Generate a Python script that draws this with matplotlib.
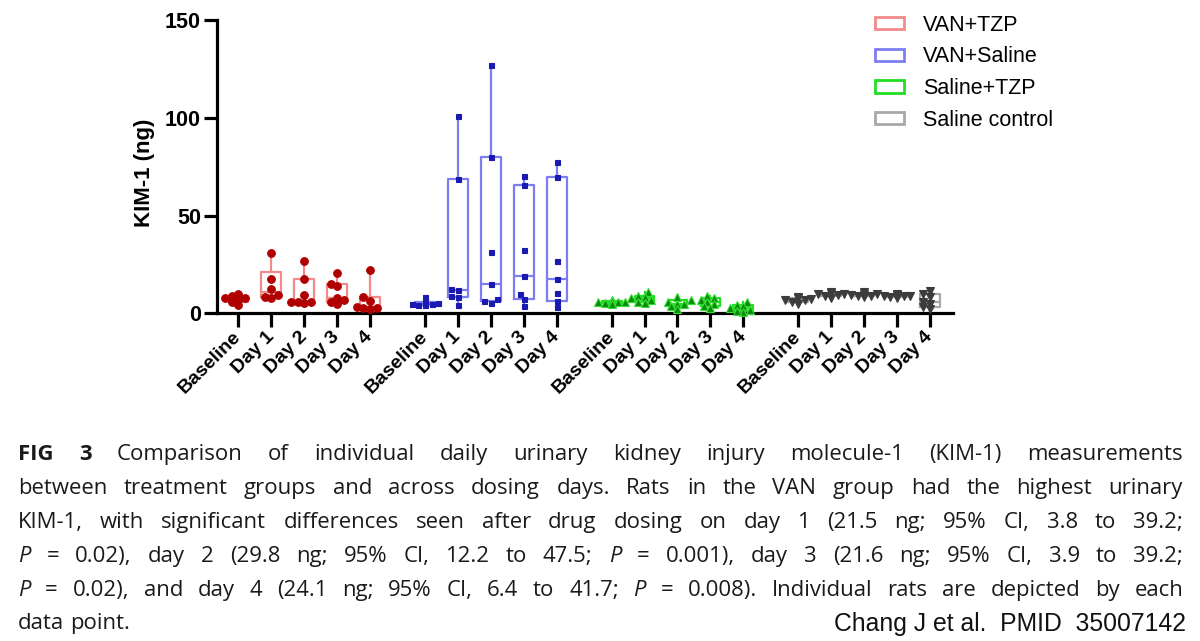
import numpy as np
import matplotlib.pyplot as plt
from matplotlib.patches import Patch

# ---- data (KIM-1 in ng, one value per rat) ----
groups = ["VAN+TZP", "VAN+Saline", "Saline+TZP", "Saline control"]
days = ["Baseline", "Day 1", "Day 2", "Day 3", "Day 4"]

van_tzp = [
    [7, 8, 9, 10, 6, 4, 8],
    [31, 17.5, 12.5, 9.5, 8, 8.5],
    [26.5, 17.5, 9.5, 6, 5.5, 6, 6],
    [20.5, 15, 14, 8, 6, 5, 7],
    [22, 8.5, 6.5, 3, 2.5, 2, 2.5],
]
van_saline = [
    [8.5, 6, 5.5, 5, 5, 4.5, 4],
    [101, 68.5, 12.5, 12, 9, 8.5, 4.2],
    [127, 80, 31.5, 15, 7.5, 6.5, 5.5],
    [70, 65.5, 32.5, 19, 10, 7.5, 3.5],
    [77.5, 69.5, 27, 17.5, 10.5, 6.5, 3],
]
saline_tzp = [
    [7, 6.5, 6, 6, 5.5, 5, 6],
    [11, 9, 8.5, 7, 6, 5.5, 8],
    [8.5, 7, 6, 5, 3.5, 2, 5],
    [9, 8, 7, 6, 5, 3.5, 2.5],
    [6, 4.5, 3.5, 2.5, 1.5, 0.5, 1],
]
saline_ctrl = [
    [8.5, 8, 7.5, 7, 6, 5, 7],
    [11, 10.5, 10, 9.5, 9, 8, 10],
    [11, 10, 9.5, 9, 9, 8.5, 10],
    [10, 9.5, 9, 9, 8.5, 8, 9],
    [11.5, 10, 8.5, 6, 5, 3, 2],
]
all_data = [van_tzp, van_saline, saline_tzp, saline_ctrl]

box_colors = ["#f28a8a", "#7d7df2", "#22dd22", "#a8a8a8"]
pt_colors = ["#b00000", "#1a1ab0", "#0a8a0a", "#3c3c3c"]
pt_edges = ["#b00000", "#1a1ab0", "#33dd33", "#3c3c3c"]
markers = ["o", "s", "^", "v"]
msizes = [5.5, 3.6, 6.0, 6.0]

caption = [
    "**FIG** **3** Comparison of individual daily urinary kidney injury molecule-1 (KIM-1) measurements",
    "between treatment groups and across dosing days. Rats in the VAN group had the highest urinary",
    "KIM-1, with significant differences seen after drug dosing on day 1 (21.5 ng; 95% CI, 3.8 to 39.2;",
    "*P* = 0.02), day 2 (29.8 ng; 95% CI, 12.2 to 47.5; *P* = 0.001), day 3 (21.6 ng; 95% CI, 3.9 to 39.2;",
    "*P* = 0.02), and day 4 (24.1 ng; 95% CI, 6.4 to 41.7; *P* = 0.008). Individual rats are depicted by each",
    "data point.",
]
credit = "Chang J et al.  PMID  35007142"

W, H = 1200, 641
GROUP_STEP = 5.67
PX_X, PX_Y = 32.95, 1.956  # pixels per data unit


def swarm(vals, diam):
    # simple beeswarm: spread points that would overlap
    order = np.argsort(vals)
    placed = []
    offs = np.zeros(len(vals))
    step = diam * 0.6 / PX_X
    for i in order:
        for k in [0, -1, 1, -2, 2, -3, 3, -4, 4]:
            dx = k * step
            ok = True
            for j, px in placed:
                d = np.hypot((dx - px) * PX_X, (vals[i] - vals[j]) * PX_Y)
                if d < diam:
                    ok = False
                    break
            if ok:
                offs[i] = dx
                placed.append((i, dx))
                break
    return offs


plt.rcParams['font.family'] = ['Liberation Sans', 'DejaVu Sans']

fig = plt.figure(figsize=(12, 6.41), dpi=100)
ax = fig.add_axes([217 / W, 1 - 313.3 / H, (953 - 217) / W, (313.3 - 20) / H])

positions = []
for g, data in enumerate(all_data):
    pos = [g * GROUP_STEP + i for i in range(len(days))]
    positions += pos
    stats = []
    for vals in data:
        q1, med, q3 = np.percentile(vals, [25, 50, 75], method="weibull")
        stats.append(dict(med=med, q1=q1, q3=q3, whislo=min(vals), whishi=max(vals), fliers=[]))
    c = box_colors[g]
    ax.bxp(stats, positions=pos, widths=0.6, showfliers=False, showcaps=False,
           boxprops=dict(color=c, lw=1.6), whiskerprops=dict(color=c, lw=1.6),
           medianprops=dict(color=c, lw=1.6), manage_ticks=False)
    for p, vals in zip(pos, data):
        vals = np.array(vals, dtype=float)
        offs = swarm(vals, 5.5)
        ax.plot(p + offs, vals, ls="none", marker=markers[g], ms=msizes[g],
                mfc=pt_colors[g], mec=pt_edges[g], mew=0.8, clip_on=False, zorder=4)

ax.set_xlim(-0.65, 3 * GROUP_STEP + 4 + 0.7)
ax.set_ylim(0, 150)
ax.set_yticks([0, 50, 100, 150])
ax.set_xticks(positions)
ax.set_xticklabels(days * len(groups), rotation=45, ha="right", va="center",
                   rotation_mode="anchor", fontsize=14, fontweight="bold")
for lbl in ax.get_yticklabels():
    lbl.set_fontweight("bold")
    lbl.set_fontsize(15.5)
for s in ["top", "right"]:
    ax.spines[s].set_visible(False)
for s in ["left", "bottom"]:
    ax.spines[s].set_linewidth(2.3)
ax.tick_params(axis="y", width=2.3, length=9.5, pad=2)
ax.tick_params(axis="x", width=2.3, length=10, pad=5)
ax.set_ylabel("KIM-1 (ng)", fontsize=16, fontweight="bold")
ax.yaxis.set_label_coords((155 - 217) / 736, 0.48)

handles = [Patch(facecolor="none", edgecolor=c, lw=2) for c in box_colors]
fig.legend(handles, groups, loc="upper left", bbox_to_anchor=(866 / W, 1 - 6 / H),
           frameon=False, fontsize=15.5, handlelength=1.35, handleheight=0.5,
           handletextpad=0.9, labelspacing=0.5, borderaxespad=0)

# ---- caption, justified between two margins ----
renderer = fig.canvas.get_renderer()
x_left, x_right = 18, 1183
cap_font = ["Open Sans", "DejaVu Sans"]
cap_size = 15.9
line_y = [452, 486, 520, 554, 588, 621]
for n, (line, yc) in enumerate(zip(caption, line_y)):
    objs = []
    for word in line.split(" "):
        weight, style = "normal", "normal"
        if word.startswith("**"):
            word, weight = word.strip("*"), "bold"
        elif word.startswith("*"):
            word, style = word.strip("*"), "italic"
        t = fig.text(0, 1 - yc / H, word, fontsize=cap_size, family=cap_font,
                     fontweight=weight, fontstyle=style, va="center_baseline", color="#1a1a1a")
        objs.append(t)
    widths = [t.get_window_extent(renderer).width for t in objs]
    if n < len(caption) - 1:
        gap = (x_right - x_left - sum(widths)) / (len(objs) - 1)
    else:
        gap = cap_size * 100 / 72 * 0.26
    x = x_left
    for t, w in zip(objs, widths):
        t.set_x(x / W)
        x += w + gap

fig.text(1186 / W, 1 - 622 / H, credit, fontsize=17.8, ha="right", va="center_baseline",
         color="#111111")

fig.savefig("out.png", dpi=100)
